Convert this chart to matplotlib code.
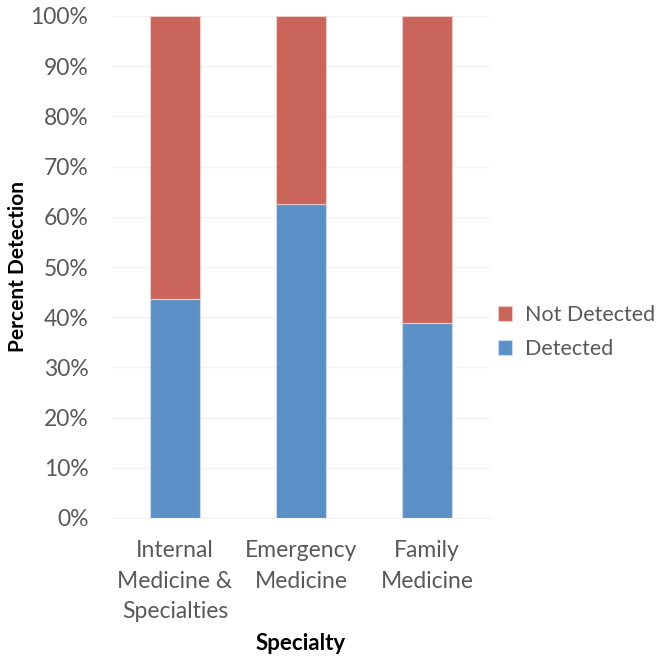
import matplotlib.pyplot as plt
import numpy as np

# percent of cases detected by each specialty
specialties = ['Internal\nMedicine &\nSpecialties', 'Emergency\nMedicine', 'Family\nMedicine']
detected = [43.7, 62.5, 38.8]
not_detected = [100 - d for d in detected]
y_ticks = list(range(0, 101, 10))

blue = '#5B90C6'
red = '#C9655B'
grey = '#595959'

plt.rcParams['font.family'] = ['Lato', 'DejaVu Sans']

fig = plt.figure(figsize=(6.62, 6.56), dpi=100)
ax = fig.add_axes([112 / 662, (656 - 518) / 656, 378 / 662, 502 / 656])

x = np.arange(len(specialties))
ax.bar(x, detected, width=0.4, color=blue, edgecolor='#C9DAF0', linewidth=0.8, label='Detected', zorder=3)
ax.bar(x, not_detected, width=0.4, bottom=detected, color=red, edgecolor='#EFC9C5', linewidth=0.8,
       label='Not Detected', zorder=3)

ax.set_xlim(-0.5, 2.5)
ax.set_ylim(0, 100)
ax.set_yticks(y_ticks)
ax.set_yticklabels([f'{t}%' for t in y_ticks])
ax.set_xticks(x)
ax.set_xticklabels(specialties, linespacing=1.55)
ax.tick_params(axis='both', length=0, labelsize=16.5, colors=grey)
ax.tick_params(axis='y', pad=17)
ax.tick_params(axis='x', pad=16)
ax.grid(axis='y', color='#F2F2F2', linewidth=1, zorder=0)
for side in ['top', 'right', 'left']:
    ax.spines[side].set_visible(False)
ax.spines['bottom'].set_color('#F2F2F2')

ax.set_ylabel('Percent Detection', fontsize=15, fontweight='bold', va='center')
ax.yaxis.set_label_coords(-(112 - 18) / 378, 0.5)
ax.set_xlabel('Specialty', fontsize=16, fontweight='bold', labelpad=8)

handles, labels = ax.get_legend_handles_labels()
leg = ax.legend(handles[::-1], labels[::-1], loc='center left',
                bbox_to_anchor=(498 / 662, (656 - 332) / 656), bbox_transform=fig.transFigure,
                frameon=False, fontsize=15.5, handlelength=0.65, handleheight=0.65,
                handletextpad=0.6, labelspacing=0.65, borderaxespad=0, borderpad=0)
for t in leg.get_texts():
    t.set_color(grey)

fig.savefig('out.png', dpi=100)
